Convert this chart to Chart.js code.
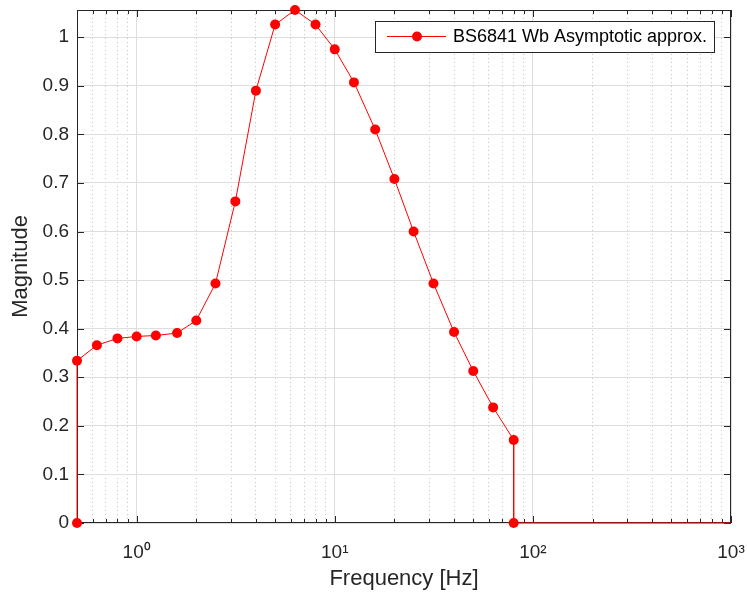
<!DOCTYPE html>
<html>
<head>
<meta charset="utf-8">
<script src="https://cdn.jsdelivr.net/npm/chart.js@4.4.0/dist/chart.umd.min.js"></script>
<style>
body { margin: 0; background: #fff; }
#wrap { width: 747px; height: 593px; }
</style>
</head>
<body>
<div id="wrap"><canvas id="wb-chart" width="747" height="593"></canvas></div>
<script>
// BS6841 Wb weighting, asymptotic approximation (1/3 octave bands)
const frequencies = [0.5, 0.5, 0.63, 0.8, 1, 1.25, 1.6, 2, 2.5, 3.15, 4, 5, 6.3, 8, 10, 12.5, 16, 20, 25, 31.5, 40, 50, 63, 80, 80, 1000];
const magnitudes = [0, 0.334, 0.366, 0.380, 0.384, 0.386, 0.391, 0.417, 0.493, 0.662, 0.890, 1.026, 1.056, 1.026, 0.975, 0.907, 0.810, 0.708, 0.600, 0.493, 0.393, 0.313, 0.238, 0.171, 0, 0];
const hasMarker = [true, true, true, true, true, true, true, true, true, true, true, true, true, true, true, true, true, true, true, true, true, true, true, true, true, false];

const xTickValues = [0.5, 0.6, 0.7, 0.8, 0.9, 1, 2, 3, 4, 5, 6, 7, 8, 9, 10, 20, 30, 40, 50, 60, 70, 80, 90, 100, 200, 300, 400, 500, 600, 700, 800, 900, 1000];
const xTickLabels = {1: '10⁰', 10: '10¹', 100: '10²', 1000: '10³'};
const yTickValues = [0, 0.1, 0.2, 0.3, 0.4, 0.5, 0.6, 0.7, 0.8, 0.9, 1];
const seriesName = 'BS6841 Wb Asymptotic approx.';

const isDecade = v => Math.abs(Math.log10(v) - Math.round(Math.log10(v))) < 1e-9;

Chart.defaults.font.family = '"Liberation Sans", Arial, sans-serif';
Chart.defaults.color = '#262626';

// box, inward ticks and in-plot legend, MATLAB style
const matlabAxes = {
    id: 'matlabAxes',
    beforeDatasetsDraw(chart) {
        const {ctx, chartArea: a, scales: {x, y}} = chart;
        ctx.save();
        ctx.strokeStyle = '#262626';
        ctx.lineWidth = 1;
        ctx.beginPath();
        x.ticks.forEach(t => {
            const px = Math.round(x.getPixelForValue(t.value)) + 0.5;
            const len = isDecade(t.value) ? 7 : 4;
            ctx.moveTo(px, a.bottom); ctx.lineTo(px, a.bottom - len);
            ctx.moveTo(px, a.top); ctx.lineTo(px, a.top + len);
        });
        y.ticks.forEach(t => {
            const py = Math.round(y.getPixelForValue(t.value)) + 0.5;
            ctx.moveTo(a.left, py); ctx.lineTo(a.left + 7, py);
            ctx.moveTo(a.right, py); ctx.lineTo(a.right - 7, py);
        });
        ctx.stroke();
        ctx.strokeRect(a.left + 0.5, a.top + 0.5, a.right - a.left - 1, a.bottom - a.top - 1);
        ctx.restore();
    },
    afterDraw(chart) {
        const {ctx, chartArea: a} = chart;
        const right = a.right - 17, top = a.top + 11, w = 339, h = 31;
        const left = right - w, mid = top + h / 2;
        ctx.save();
        ctx.fillStyle = '#fff';
        ctx.fillRect(left, top, w, h);
        ctx.strokeStyle = '#262626';
        ctx.lineWidth = 1;
        ctx.strokeRect(left + 0.5, top + 0.5, w, h);
        ctx.strokeStyle = '#ff0000';
        ctx.beginPath();
        ctx.moveTo(left + 12, mid); ctx.lineTo(left + 71, mid);
        ctx.stroke();
        ctx.fillStyle = '#ff0000';
        ctx.beginPath();
        ctx.arc(left + 42, mid, 5, 0, Math.PI * 2);
        ctx.fill();
        ctx.fillStyle = '#000';
        ctx.font = '18px "Liberation Sans", Arial, sans-serif';
        ctx.textBaseline = 'middle';
        ctx.fillText(seriesName, left + 78, mid + 1);
        ctx.restore();
    }
};

const wb_ctx = document.getElementById('wb-chart').getContext('2d');
const wb_chart = new Chart(wb_ctx, {
    type: 'scatter',
    data: {
        datasets: [{
            label: seriesName,
            data: frequencies.map((f, i) => ({x: f, y: magnitudes[i]})),
            showLine: true,
            borderColor: '#ff0000',
            backgroundColor: '#ff0000',
            borderWidth: 1,
            pointRadius: hasMarker.map(m => m ? 5 : 0),
            pointHoverRadius: hasMarker.map(m => m ? 5 : 0),
            pointBorderWidth: 0,
            tension: 0,
            clip: false
        }]
    },
    options: {
        responsive: false,
        animation: false,
        layout: {padding: {top: 10, right: 16, left: 0, bottom: 0}},
        plugins: {
            legend: {display: false},
            tooltip: {enabled: false}
        },
        scales: {
            x: {
                type: 'logarithmic',
                min: 0.5,
                max: 1000,
                afterBuildTicks: scale => { scale.ticks = xTickValues.map(v => ({value: v})); },
                afterFit: scale => {
                    scale.height = 70;
                    scale.paddingLeft = 0;
                    scale.paddingRight = 0;
                },
                ticks: {
                    autoSkip: false,
                    maxRotation: 0,
                    padding: 18,
                    font: {size: 19},
                    callback: v => xTickLabels[v] || ''
                },
                grid: {
                    drawTicks: false,
                    color: ctx => ctx.tick && isDecade(ctx.tick.value) ? '#dedede' : '#c4c4c4'
                },
                border: {
                    display: false,
                    dash: ctx => ctx.tick && !isDecade(ctx.tick.value) ? [1, 3] : []
                },
                title: {
                    display: true,
                    text: 'Frequency [Hz]',
                    font: {size: 22},
                    padding: {top: 0, bottom: 1}
                }
            },
            y: {
                min: 0,
                max: Math.max(...magnitudes),
                afterBuildTicks: scale => { scale.ticks = yTickValues.map(v => ({value: v})); },
                afterFit: scale => {
                    scale.width = 77;
                    scale.paddingTop = 0;
                    scale.paddingBottom = 0;
                },
                ticks: {
                    padding: 8,
                    font: {size: 19},
                    callback: v => String(+v.toFixed(1))
                },
                grid: {drawTicks: false, color: '#dedede'},
                border: {display: false},
                title: {
                    display: true,
                    text: 'Magnitude',
                    font: {size: 22},
                    padding: {top: 8, bottom: 0}
                }
            }
        }
    },
    plugins: [matlabAxes]
});
</script>
</body>
</html>
